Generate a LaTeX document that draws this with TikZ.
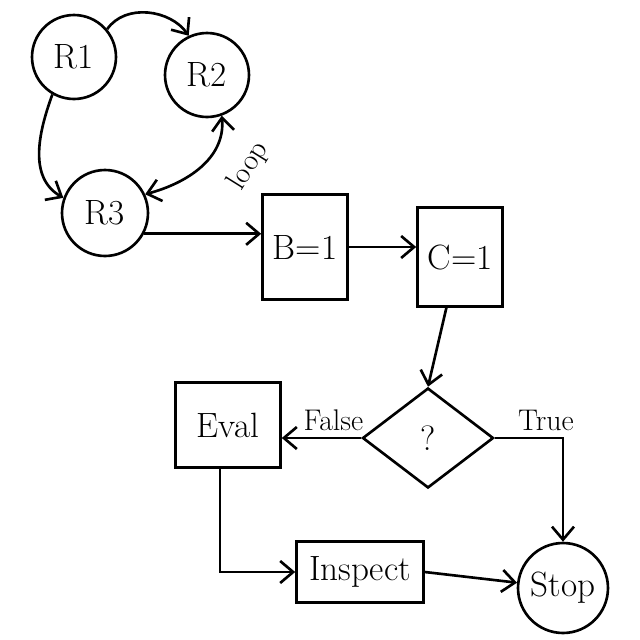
\documentclass[tikz,border=0pt]{standalone}
\usetikzlibrary{arrows.meta,shapes.geometric}

\begin{document}
\begin{tikzpicture}[x=0.02cm, y=-0.02cm, line width=1.5pt,
    >={Straight Barb[length=2.6mm,width=4.4mm]},
    font=\fontsize{20}{24}\selectfont,
    state/.style={draw, circle, inner sep=0pt},
    block/.style={draw, rectangle, inner sep=0pt},
    choice/.style={draw, diamond, inner sep=0pt, minimum width=2.62cm, minimum height=2cm},
    tag/.style={font=\fontsize{17}{20}\selectfont}]
    \useasboundingbox (0,0) rectangle (640,640);

    % register loop
    \node[state, minimum size=1.68cm] (r1) at (74,57) {R1};
    \node[state, minimum size=1.68cm] (r2) at (207,75) {R2};
    \node[state, minimum size=1.72cm] (r3) at (105,213) {R3};

    \draw[->] (r1.40) to[out=55, in=125] (r2.115);
    \draw[->] (r1.240) to[out=250, in=150] (r3.160);
    \draw[<->] (r3.25) to[out=15, in=-85] (r2.290);
    \node[tag, rotate=58] (loop) at (249,166) {loop};

    % assignments
    \node[block, minimum width=1.7cm, minimum height=2.1cm] (b1) at (305,247) {B=1};
    \node[block, minimum width=1.7cm, minimum height=1.98cm] (c1) at (460,257) {C=1};

    \draw[->] (r3.-28) -- (r3.-28 -| b1.west);
    \draw[->] (b1.east) -- (b1.east -| c1.west);

    % decision
    \node[choice] (q) at (428,438) {?};
    \node[block, minimum width=2.1cm, minimum height=1.7cm] (eval) at (228,425) {Eval};
    \node[block, minimum width=2.54cm, minimum height=1.22cm] (inspect) at (360,572) {Inspect};
    \node[state, minimum size=1.8cm] (stop) at (563,588) {Stop};

    \draw[->] (c1.255) -- (q.north);
    \draw[->] (q.west) -- (q.west -| eval.east) node[tag, pos=0.35, above] (false) {False};
    \coordinate (bend) at (q.east -| stop.north);
    \draw[->] (q.east) -- (bend) node[tag, pos=0.75, above] (true) {True} -- (stop.north);
    \draw[->] ([xshift=-0.16cm]eval.south) |- (inspect.west);
    \draw[->] (inspect.east) -- (stop);
\end{tikzpicture}
\end{document}
